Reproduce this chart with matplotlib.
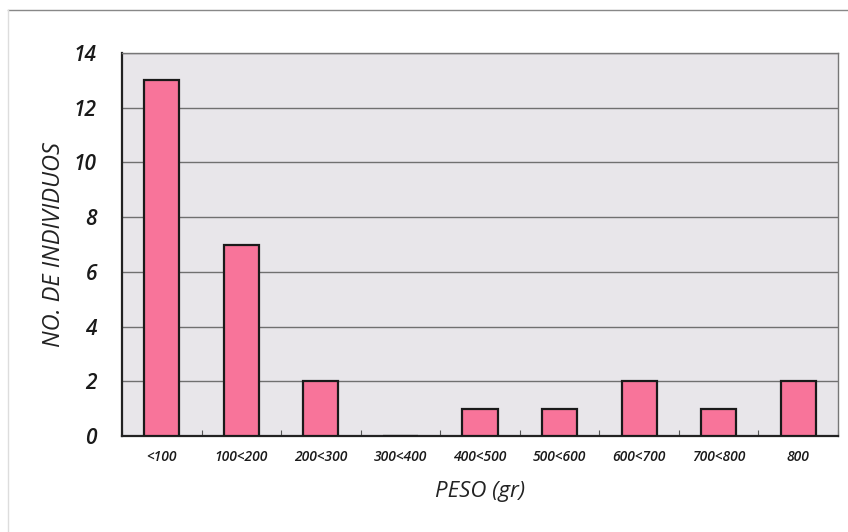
import numpy as np
import matplotlib
matplotlib.use("Agg")
import matplotlib.pyplot as plt
from matplotlib.lines import Line2D

categories = ["<100", "100<200", "200<300", "300<400", "400<500",
              "500<600", "600<700", "700<800", "800"]
individuos = [13, 7, 2, 0, 1, 1, 2, 1, 2]
y_ticks = [0, 2, 4, 6, 8, 10, 12, 14]

plt.rcParams['font.family'] = ['Open Sans', 'DejaVu Sans']

fig = plt.figure(figsize=(8.48, 5.32), dpi=100)
fig.patch.set_facecolor("white")
ax = fig.add_axes([122 / 848, 96 / 532, 716 / 848, 383 / 532])
ax.set_facecolor("#e8e6ea")

x = np.arange(len(categories))
ax.bar(x, individuos, width=0.44, color="#f8749a", edgecolor="#1a1a1a",
       linewidth=1.6, zorder=3)

ax.set_xlim(-0.5, len(categories) - 0.5)
ax.set_ylim(0, 14)
ax.set_yticks(y_ticks)
ax.set_yticklabels([str(v) for v in y_ticks], fontsize=15, style="italic",
                   fontweight="semibold", color="#1a1a1a")
ax.yaxis.grid(True, color="#707070", linewidth=1.0, zorder=1)
ax.tick_params(axis="y", length=0, pad=18)

# category boundaries as small ticks, labels at centers
ax.set_xticks(np.arange(len(categories) + 1) - 0.5)
ax.set_xticklabels([])
ax.set_xticks(x, minor=True)
ax.set_xticklabels(categories, minor=True, fontsize=10, style="italic",
                   fontweight="semibold", color="#1a1a1a")
ax.tick_params(axis="x", which="major", direction="in", length=4,
               color="#555555")
ax.tick_params(axis="x", which="minor", length=0, pad=10)

for side in ["left", "bottom"]:
    ax.spines[side].set_color("#222222")
    ax.spines[side].set_linewidth(1.6)
for side in ["top", "right"]:
    ax.spines[side].set_color("#777777")
    ax.spines[side].set_linewidth(1.0)

ax.set_ylabel("NO. DE INDIVIDUOS", fontsize=17, style="italic",
              color="#222222", labelpad=6)
ax.set_xlabel("PESO (gr)", fontsize=16, style="italic", color="#222222",
              labelpad=12)

# outer frame of the scanned figure
fig.add_artist(Line2D([8 / 848, 1], [1 - 10 / 532, 1 - 10 / 532],
                      color="#888888", linewidth=1.0))
fig.add_artist(Line2D([8 / 848, 8 / 848], [0, 1 - 10 / 532],
                      color="#dddddd", linewidth=1.0))

fig.savefig("out.png", dpi=100)
